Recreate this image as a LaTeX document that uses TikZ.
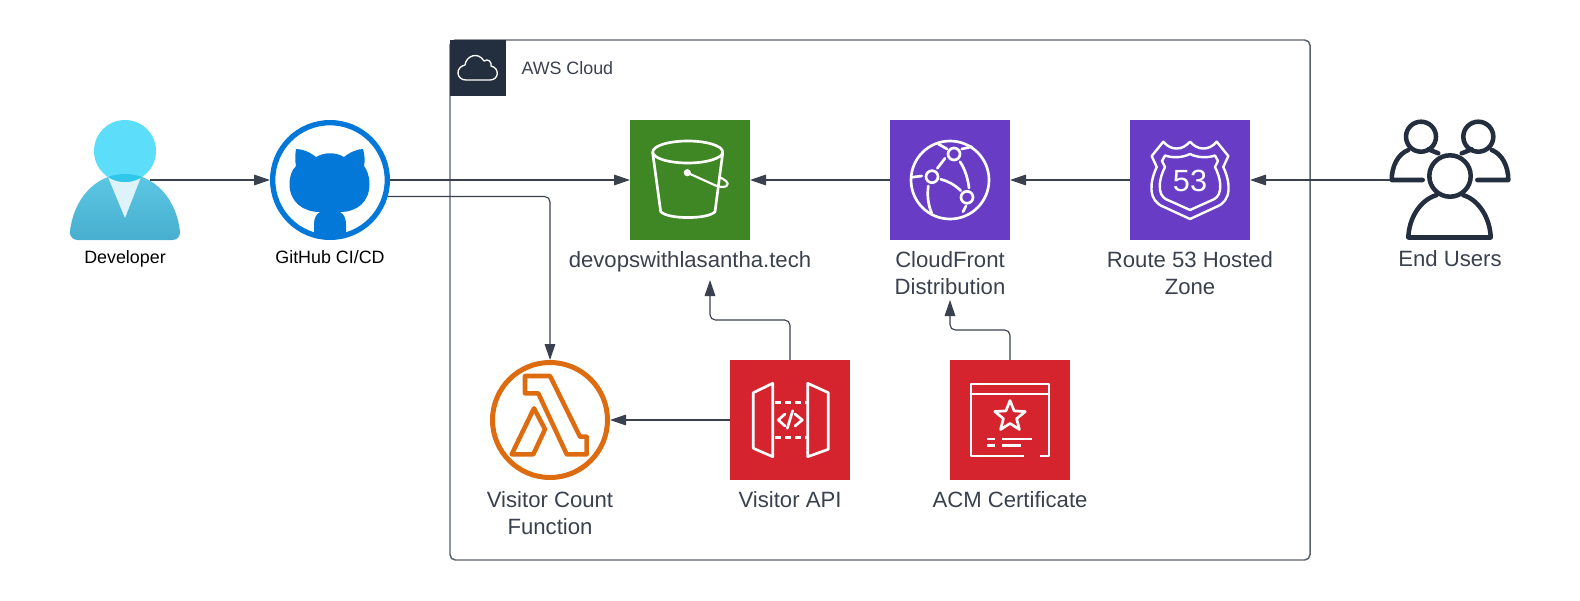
\documentclass[tikz,border=0pt]{standalone}
\usepackage{fontspec}
\setmainfont{Liberation Sans}
\usetikzlibrary{arrows.meta,shapes.geometric}
\definecolor{linegrey}{RGB}{58,65,78}
\definecolor{framegrey}{RGB}{88,96,108}
\definecolor{awsnavy}{RGB}{35,47,62}
\definecolor{s3green}{RGB}{63,134,36}
\definecolor{netpurple}{RGB}{105,60,197}
\definecolor{secred}{RGB}{214,36,46}
\definecolor{lambdaorange}{RGB}{221,107,16}
\definecolor{gitblue}{RGB}{3,120,216}
\definecolor{devtop}{RGB}{92,200,228}
\definecolor{devbottom}{RGB}{72,174,207}
\definecolor{devhead}{RGB}{92,221,249}
\definecolor{devoverlap}{RGB}{48,200,234}
\definecolor{devneck}{RGB}{222,242,249}
\tikzset{
  every picture/.style={line width=0.75pt},
  flow/.style={draw=linegrey,line width=0.85pt,rounded corners=4pt,-{Triangle[length=12pt,width=8pt]}},
  tile/.style={minimum size=90pt,inner sep=0pt,outer sep=0pt},
  glyph/.style={draw=white,line width=2pt,line join=round,line cap=round},
  crew/.style={draw=awsnavy,line width=3.4pt,line join=round,line cap=round},
  bigtext/.style={font=\fontsize{16.6}{20}\selectfont,text=linegrey,align=center,inner sep=0pt},
  smalltext/.style={font=\fontsize{13.4}{16}\selectfont,text=black,align=center,inner sep=0pt},
}
\begin{document}
\begin{tikzpicture}[x=0.75pt,y=0.75pt,yscale=-1,xscale=1]
\useasboundingbox (0,0) rectangle (1580,600);

%Shape: AWS frame
\draw [draw=framegrey,line width=1.1pt,rounded corners=4pt] (450,40) rectangle (1310,560);
\node [fill=awsnavy,minimum size=42pt,inner sep=0pt] (awshead) at (478,68) {};
\draw [white,line width=1pt,line join=round] (466,80) .. controls (456,80) and (455,67) .. (465,65) .. controls (466,56) and (478,51) .. (484,61) .. controls (488,58) and (492,62) .. (491,66) .. controls (500,68) and (499,80) .. (490,80) -- cycle ;

%Shape: Developer
\path [top color=devtop,bottom color=devbottom] (70,232) .. controls (73,200) and (95,174) .. (125,174) .. controls (155,174) and (177,200) .. (180,232) .. controls (180,237) and (177,240) .. (172,240) -- (78,240) .. controls (73,240) and (70,237) .. (70,232) -- cycle ;
\fill [devneck] (108,177) -- (141,177) -- (125,218) -- cycle ;
\fill [devhead] (125,151) circle [radius=31];
\begin{scope}
\clip (70,240) -- (70,232) .. controls (73,200) and (95,174) .. (125,174) .. controls (155,174) and (177,200) .. (180,232) -- (180,240) -- cycle ;
\fill [devoverlap] (125,151) circle [radius=31];
\end{scope}
\coordinate (devout) at (150,180);

%Shape: GitHub
\node [circle,draw=gitblue,line width=4pt,minimum size=86pt,inner sep=0pt,outer sep=2pt] (github) at (330,180) {};
\fill [gitblue] (296,149) .. controls (302,149) and (310,152) .. (316,157) .. controls (325,152) and (335,152) .. (344,157) .. controls (350,152) and (358,149) .. (363,149) .. controls (365,156) and (365,161) .. (364,166) .. controls (367,170) and (369.5,176) .. (369.5,184) .. controls (369.5,202) and (357,212) .. (340,212) .. controls (344,214) and (346,219) .. (346,224) -- (346,238) -- (314,238) -- (314,224) .. controls (314,219) and (316,214) .. (320,212) .. controls (303,212) and (289.5,202) .. (289.5,184) .. controls (289.5,176) and (292,170) .. (296,166) .. controls (295,161) and (295,156) .. (296,149) -- cycle ;

%Shape: S3 bucket
\node [tile,fill=s3green] (s3) at (690,180) {};
\draw [glyph] (687.7,152) ellipse [x radius=35,y radius=11];
\draw [glyph] (652.7,153) -- (660.7,211.7) .. controls (668,219.5) and (708,219.5) .. (715,211.7) -- (722.7,153) ;
\fill [white] (687.3,172.7) circle [radius=3.6];
\draw [glyph,line width=1.6pt] (687.3,172.7) -- (716.7,186) .. controls (727,189) and (730,184) .. (726,181) .. controls (724,179) and (721,178) .. (719,177) ;

%Shape: CloudFront
\node [tile,fill=netpurple] (cloudfront) at (950,180) {};
\draw [glyph] (950,180) circle [radius=39];
\draw [glyph] (932,176.7) circle [radius=6] (954,154) circle [radius=6] (967,197.3) circle [radius=6];
\draw [glyph] (937.3,168.3) -- (945,158.3) ;
\draw [glyph] (960,161.7) .. controls (965,169) and (968,179) .. (969,188) ;
\draw [glyph] (940.7,179.3) .. controls (948,181) and (955,185) .. (960.7,190.7) ;
\draw [glyph] (911.7,177.3) -- (921.7,176) ;
\draw [glyph] (928.3,186) .. controls (927,195) and (928,205) .. (931.7,213) ;
\draw [glyph] (938.3,144) -- (947,149) ;
\draw [glyph] (961.7,149) -- (971.7,146.7) ;
\draw [glyph] (963,211.7) -- (966,206) ;

%Shape: Route 53
\node [tile,fill=netpurple] (route) at (1190,180) {};
\draw [glyph,line width=1.8pt] (1163.3,141.7) .. controls (1168,147) and (1172,148.5) .. (1176.7,148.5) .. controls (1182,148.5) and (1186,146) .. (1190,141.7) .. controls (1194,146) and (1198,148.5) .. (1203.3,148.5) .. controls (1208,148.5) and (1212,147) .. (1216.7,141.7) -- (1228.3,156) -- (1223.3,167) .. controls (1227,175) and (1229,183) .. (1228.5,190) .. controls (1228,198) and (1224,204) .. (1216,207) -- (1190,219) -- (1164,207) .. controls (1156,204) and (1152,198) .. (1151.5,190) .. controls (1151,183) and (1153,175) .. (1156.7,167) -- (1151.7,156) -- cycle ;
\draw [glyph,line width=1.8pt] (1165,155.5) .. controls (1172,158) and (1182,158) .. (1190,154) .. controls (1198,158) and (1208,158) .. (1215,155.5) -- (1218,161) -- (1215,167) .. controls (1219,175) and (1221,183) .. (1220,190) .. controls (1219,196) and (1216,199) .. (1210,201) -- (1190,210) -- (1170,201) .. controls (1164,199) and (1161,196) .. (1160,190) .. controls (1159,183) and (1161,175) .. (1165,167) -- (1162,161) -- cycle ;
\node [font=\fontsize{23}{23}\selectfont,text=white,inner sep=0pt] (routenum) at (1190,181) {53};

%Shape: End users
\node [minimum size=90pt,inner sep=0pt,outer sep=0pt] (users) at (1450,180) {};
\draw [crew] (1421,136.7) circle [radius=15] (1478.3,136.7) circle [radius=15] (1450,176) circle [radius=20.7];
\draw [crew] (1436.7,195) .. controls (1420,200) and (1409,218) .. (1408.3,237.5) -- (1490.7,237.5) .. controls (1490,218) and (1479,200) .. (1463,195) ;
\draw [crew] (1408.3,150) .. controls (1398,154) and (1391.7,166) .. (1391.7,180) -- (1422.7,180) ;
\draw [crew] (1428.3,149.3) -- (1438.3,153.3) ;
\draw [crew] (1491.7,150) .. controls (1502,154) and (1508.3,166) .. (1508.3,180) -- (1477.3,180) ;
\draw [crew] (1471.7,149.3) -- (1461.7,153.3) ;

%Shape: Lambda
\node [circle,draw=lambdaorange,line width=3.75pt,minimum size=86.25pt,inner sep=0pt,outer sep=1.875pt] (lambda) at (550,420) {};
\draw [lambdaorange,line width=3.4pt,line join=round] (525,376) -- (550,376) -- (580,436.7) -- (586.7,436.7) -- (586.7,454.3) -- (566.7,454.3) -- (538.3,393.3) -- (525,393.3) -- cycle ;
\draw [lambdaorange,line width=3.4pt,line join=round] (534,408.3) -- (545,429.3) -- (533.3,454.3) -- (511.7,454.3) -- cycle ;

%Shape: API Gateway
\node [tile,fill=secred] (api) at (790,420) {};
\draw [glyph] (772.7,383.3) -- (753.3,392.7) -- (753.3,448.3) -- (772.7,456.7) -- cycle ;
\draw [glyph] (807.7,383.3) -- (828.3,392.7) -- (828.3,449.3) -- (807.7,456.7) -- cycle ;
\draw [glyph,line cap=butt,dash pattern=on 4.5pt off 3pt] (775,402.3) -- (807,402.3) ;
\draw [glyph,line cap=butt,dash pattern=on 4.5pt off 3pt] (775,437.3) -- (807,437.3) ;
\draw [glyph] (785,414) -- (778.3,420) -- (785,426) ;
\draw [glyph] (792.7,410.7) -- (787.3,428.3) ;
\draw [glyph] (795,414) -- (802.3,420) -- (795,426) ;

%Shape: ACM
\node [tile,fill=secred] (acm) at (1010,420) {};
\draw [glyph,line cap=butt] (1024.3,456) -- (971,456) -- (971,384) -- (1049,384) -- (1049,456) -- (1040,456) ;
\draw [glyph,line cap=butt] (971,394) -- (1049,394) ;
\node [star,star points=5,star point ratio=2.3,draw=white,line width=2pt,line join=round,minimum size=24pt,inner sep=0pt] (acmstar) at (1010,416.5) {};
\draw [glyph,line width=2.2pt,line cap=butt] (987.3,439) -- (995,439) (1002,439) -- (1032.3,439) (987.3,445.3) -- (995,445.3) (1002,445.3) -- (1021,445.3) ;

% Text Node
\node [font=\fontsize{13.4}{16}\selectfont,text=linegrey,anchor=west,inner sep=0pt] (awslabel) at (521,68.5) {AWS Cloud};
% Text Node
\node [smalltext] (devlabel) at (125,258.5) {Developer};
% Text Node
\node [smalltext] (gitlabel) at (330,257) {GitHub CI/CD};
% Text Node
\node [bigtext] (s3label) at (690,261.5) {devopswithlasantha.tech};
% Text Node
\node [bigtext] (cflabel) at (950,273) {CloudFront\\Distribution};
% Text Node
\node [bigtext] (routelabel) at (1190,273) {Route 53 Hosted\\Zone};
% Text Node
\node [bigtext] (userlabel) at (1450,259) {End Users};
% Text Node
\node [bigtext] (lambdalabel) at (550,513) {Visitor Count\\Function};
% Text Node
\node [bigtext] (apilabel) at (790,499.5) {Visitor API};
% Text Node
\node [bigtext] (acmlabel) at (1010,499.5) {ACM Certificate};

%Straight Lines
\coordinate (s3in) at (710,280);
\coordinate (cfin) at (950,300);
\draw [flow] (devout) -- (github.west) ;
\draw [flow] (github.east) -- (s3.west) ;
\draw [flow] (github.-16.5) -| (lambda.north) ;
\draw [flow] (cloudfront.west) -- (s3.east) ;
\draw [flow] (route.west) -- (cloudfront.east) ;
\draw [flow] (users.west) -- (route.east) ;
\draw [flow] (api.west) -- (lambda.east) ;
\draw [flow] (api.north) -- (790,320) -- (710,320) -- (s3in) ;
\draw [flow] (acm.north) -- (1010,330) -- (950,330) -- (cfin) ;

\end{tikzpicture}
\end{document}
